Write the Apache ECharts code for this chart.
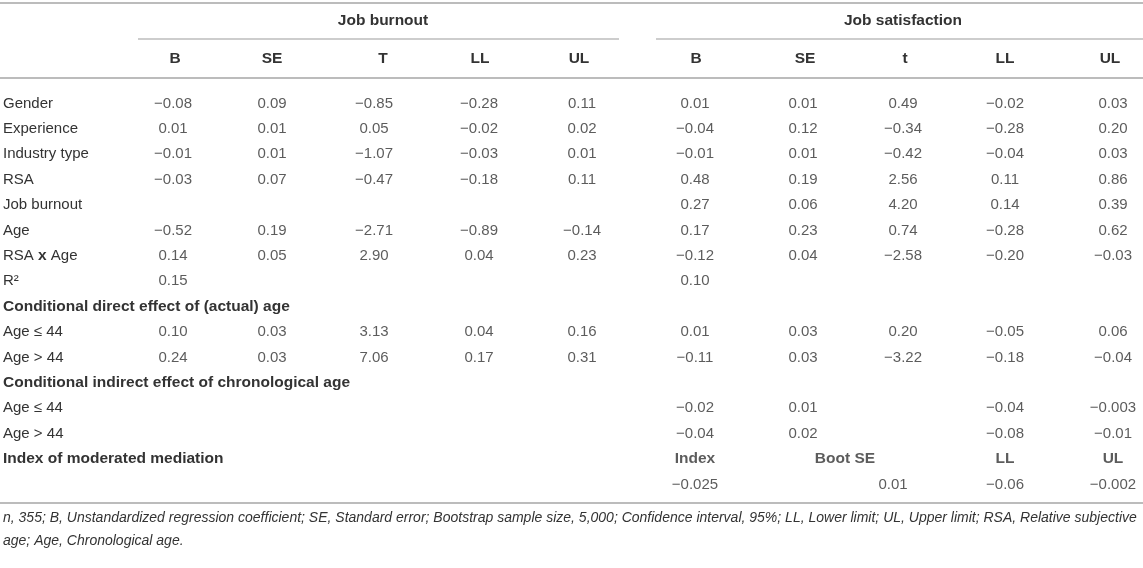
<!DOCTYPE html>
<html>
<head>
<meta charset="utf-8">
<script src="https://cdn.jsdelivr.net/npm/echarts@6/dist/echarts.min.js"></script>
<style>
html,body{margin:0;padding:0;background:#fff;}
#chart{width:1143px;height:568px;}
</style>
</head>
<body>
<div id="chart"></div>
<script>
// ---------- data ----------
const groupTitles = ['Job burnout', 'Job satisfaction'];
const burnoutHeaders = ['B', 'SE', 'T', 'LL', 'UL'];
const satisfactionHeaders = ['B', 'SE', 't', 'LL', 'UL'];
const rowLabels = ['Gender', 'Experience', 'Industry type', 'RSA', 'Job burnout', 'Age', 'RSA x Age', 'R\u00B2',
  'Conditional direct effect of (actual) age', 'Age \u2264 44', 'Age > 44',
  'Conditional indirect effect of chronological age', 'Age \u2264 44', 'Age > 44',
  'Index of moderated mediation', ''];
const boldRows = [8, 11, 14];

const burnoutB  = [-0.08, 0.01, -0.01, -0.03, null, -0.52, 0.14, 0.15, null, 0.10, 0.24, null, null, null, null, null];
const burnoutSE = [0.09, 0.01, 0.01, 0.07, null, 0.19, 0.05, null, null, 0.03, 0.03, null, null, null, null, null];
const burnoutT  = [-0.85, 0.05, -1.07, -0.47, null, -2.71, 2.90, null, null, 3.13, 7.06, null, null, null, null, null];
const burnoutLL = [-0.28, -0.02, -0.03, -0.18, null, -0.89, 0.04, null, null, 0.04, 0.17, null, null, null, null, null];
const burnoutUL = [0.11, 0.02, 0.01, 0.11, null, -0.14, 0.23, null, null, 0.16, 0.31, null, null, null, null, null];

const satB  = [0.01, -0.04, -0.01, 0.48, 0.27, 0.17, -0.12, 0.10, null, 0.01, -0.11, null, -0.02, -0.04, null, null];
const satSE = [0.01, 0.12, 0.01, 0.19, 0.06, 0.23, 0.04, null, null, 0.03, 0.03, null, 0.01, 0.02, null, null];
const satT  = [0.49, -0.34, -0.42, 2.56, 4.20, 0.74, -2.58, null, null, 0.20, -3.22, null, null, null, null, null];
const satLL = [-0.02, -0.28, -0.04, 0.11, 0.14, -0.28, -0.20, null, null, -0.05, -0.18, null, -0.04, -0.08, null, null];
const satUL = [0.03, 0.20, 0.03, 0.86, 0.39, 0.62, -0.03, null, null, 0.06, -0.04, null, -0.003, -0.01, null, null];

const indexHeaders = ['Index', 'Boot SE', 'LL', 'UL'];
const indexValues = [-0.025, 0.01, -0.06, -0.002];

const footnoteLines = [
  'n, 355; B, Unstandardized regression coefficient; SE, Standard error; Bootstrap sample size, 5,000; Confidence interval, 95%; LL, Lower limit; UL, Upper limit; RSA, Relative subjective',
  'age; Age, Chronological age.'
];

// ---------- layout ----------
const W = 1143, H = 568;
const FONT = "'Liberation Sans', Arial, Helvetica, sans-serif";
const TXT = '#333333';
const LINE = '#bcbcbc';
const FS = 15;
const FSB = 15.5;
const rowTop = 103.5, rowPitch = 25.4;
const colX1 = [173, 272, 374, 479, 582];
const colX2 = [695, 803, 903, 1005, 1113];
const hdrX1 = [175, 272, 383, 480, 579];
const hdrX2 = [696, 805, 905, 1005, 1110];
const idxHdrX = [695, 845, 1005, 1113];
const idxValX = [695, 893, 1005, 1113];

function fmt(v) {
  const dec = Math.abs(v * 100 - Math.round(v * 100)) > 1e-7 ? 3 : 2;
  const s = Math.abs(v).toFixed(dec);
  return (v < 0 ? '\u2212' : '') + s;
}

const cells = [];
function addCol(arr, x) {
  arr.forEach((v, i) => { if (v !== null) cells.push({ value: [x, i], text: fmt(v) }); });
}
[burnoutB, burnoutSE, burnoutT, burnoutLL, burnoutUL].forEach((a, k) => addCol(a, colX1[k]));
[satB, satSE, satT, satLL, satUL].forEach((a, k) => addCol(a, colX2[k]));
indexHeaders.forEach((h, k) => cells.push({ value: [idxHdrX[k], 14], text: h, label: { fontWeight: 'bold', fontSize: FSB } }));
indexValues.forEach((v, k) => cells.push({ value: [idxValX[k], 15], text: fmt(v) }));

const graphics = [];
function hline(y, x1, x2, w) {
  graphics.push({ type: 'line', shape: { x1: x1, y1: y, x2: x2, y2: y }, style: { stroke: LINE, lineWidth: w }, silent: true });
}
function text(str, x, y, opts) {
  graphics.push({ type: 'text', x: x, y: y, silent: true,
    style: Object.assign({ text: str, fill: TXT, font: FS + 'px ' + FONT, textAlign: 'center', textVerticalAlign: 'middle' }, opts || {}) });
}
const boldFont = 'bold ' + FSB + 'px ' + FONT;
hline(3, 0, W, 2);
hline(39, 138, 619, 1.3);
hline(39, 656, W, 1.3);
hline(78, 0, W, 2);
hline(503, 0, W, 2);
text(groupTitles[0], 383, 21, { font: boldFont });
text(groupTitles[1], 903, 21, { font: boldFont });
burnoutHeaders.forEach((h, k) => text(h, hdrX1[k], 59, { font: boldFont }));
satisfactionHeaders.forEach((h, k) => text(h, hdrX2[k], 59, { font: boldFont }));
footnoteLines.forEach((l, k) => text(l, 3, 518 + k * 23, { textAlign: 'left', font: 'italic 14px ' + FONT }));

const chart = echarts.init(document.getElementById('chart'), null, { renderer: 'canvas' });
chart.setOption({
  animation: false,
  backgroundColor: '#ffffff',
  grid: { left: 0, right: 0, top: rowTop - rowPitch / 2, height: rowPitch * rowLabels.length },
  xAxis: { type: 'value', min: 0, max: W, show: false },
  yAxis: {
    type: 'category', data: rowLabels, inverse: true,
    axisLine: { show: false }, axisTick: { show: false }, splitLine: { show: false },
    axisLabel: {
      inside: true, margin: 3, align: 'left', color: TXT, fontSize: FS, fontFamily: FONT,
      formatter: function (val, idx) {
        if (boldRows.indexOf(idx) >= 0) return '{b|' + val + '}';
        if (val === 'RSA x Age') return 'RSA {b|x} Age';
        return val;
      },
      rich: {
        b: { fontWeight: 'bold', fontSize: FSB, fontFamily: FONT, color: TXT }
      }
    }
  },
  series: [{
    type: 'scatter', data: cells, symbolSize: 1, itemStyle: { color: 'rgba(0,0,0,0)' }, silent: true,
    label: {
      show: true, position: 'inside', color: TXT, fontSize: FS, fontFamily: FONT,
      formatter: function (p) { return p.data.text; }
    }
  }],
  graphic: graphics
});
</script>
</body>
</html>
